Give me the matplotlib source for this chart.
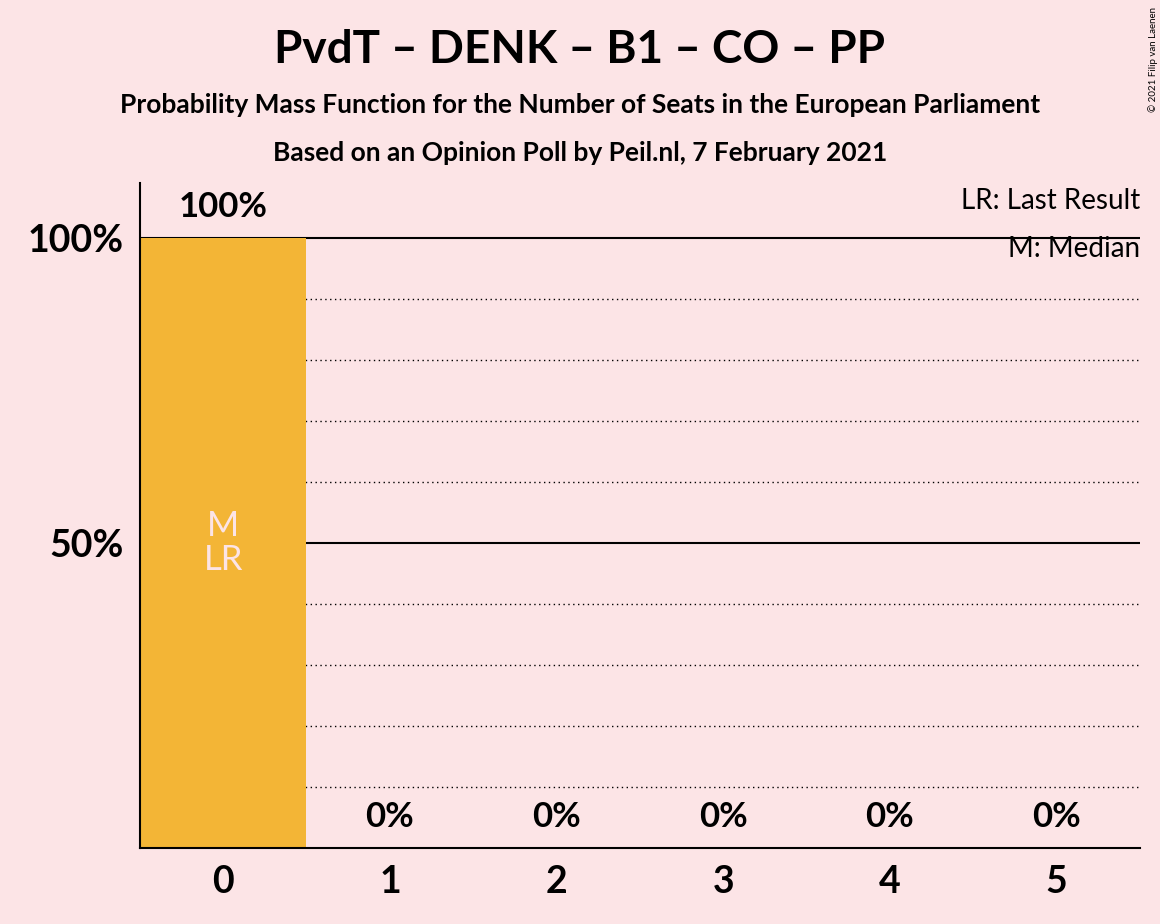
import matplotlib
matplotlib.use("Agg")
import matplotlib.pyplot as plt

seats = [0, 1, 2, 3, 4, 5]
probs = [100, 0, 0, 0, 0, 0]
labels = ["100%", "0%", "0%", "0%", "0%", "0%"]

BG = "#FCE4E6"
BAR = "#F3B536"
plt.rcParams["font.family"] = ["Lato", "DejaVu Sans"]

fig = plt.figure(figsize=(11.6, 9.24), dpi=100, facecolor=BG)
ax = fig.add_axes([140/1160, 1-848/924, 1000/1160, 665/924], facecolor=BG)
ax.set_xlim(-0.5, 5.5)
ax.set_ylim(0, 109)

# grid lines
for y in range(10, 100, 10):
    if y == 50:
        continue
    ax.axhline(y, color="black", ls=(0, (1, 2.5)), lw=1, zorder=1)
for y in (50, 100):
    ax.axhline(y, color="black", lw=1.5, zorder=1)

ax.bar(seats, probs, width=0.99, color=BAR, zorder=2)

for s, p, t in zip(seats, probs, labels):
    ax.text(s, p + 2.5, t, ha="center", va="bottom", fontsize=25, fontweight="bold", zorder=3)
ax.text(0, 50, "M\nLR", ha="center", va="center", fontsize=25, color=BG,
        linespacing=1.1, zorder=3)

ax.set_xticks(seats)
ax.set_xticklabels([str(s) for s in seats], fontsize=27, fontweight="bold")
ax.set_yticks([50, 100])
ax.set_yticklabels(["50%", "100%"], fontsize=27, fontweight="bold")
ax.tick_params(length=0, pad=12)
for side in ("top", "right"):
    ax.spines[side].set_visible(False)
ax.spines["left"].set_linewidth(1.5)
ax.spines["bottom"].set_linewidth(1.5)

fig.text(0.5, 1-50/924, "PvdT – DENK – B1 – CO – PP", ha="center", va="center",
         fontsize=33, fontweight="bold")
fig.text(0.5, 1-105/924, "Probability Mass Function for the Number of Seats in the European Parliament",
         ha="center", va="center", fontsize=19, fontweight="bold")
fig.text(0.5, 1-153/924, "Based on an Opinion Poll by Peil.nl, 7 February 2021",
         ha="center", va="center", fontsize=19, fontweight="bold")
fig.text(1140/1160, 1-201/924, "LR: Last Result", ha="right", va="center", fontsize=20)
fig.text(1140/1160, 1-249/924, "M: Median", ha="right", va="center", fontsize=20)
fig.text(1153/1160, 1-60/924, "© 2021 Filip van Laenen", rotation=90, ha="center",
         va="center", fontsize=7)

fig.savefig("out.png", facecolor=BG)
